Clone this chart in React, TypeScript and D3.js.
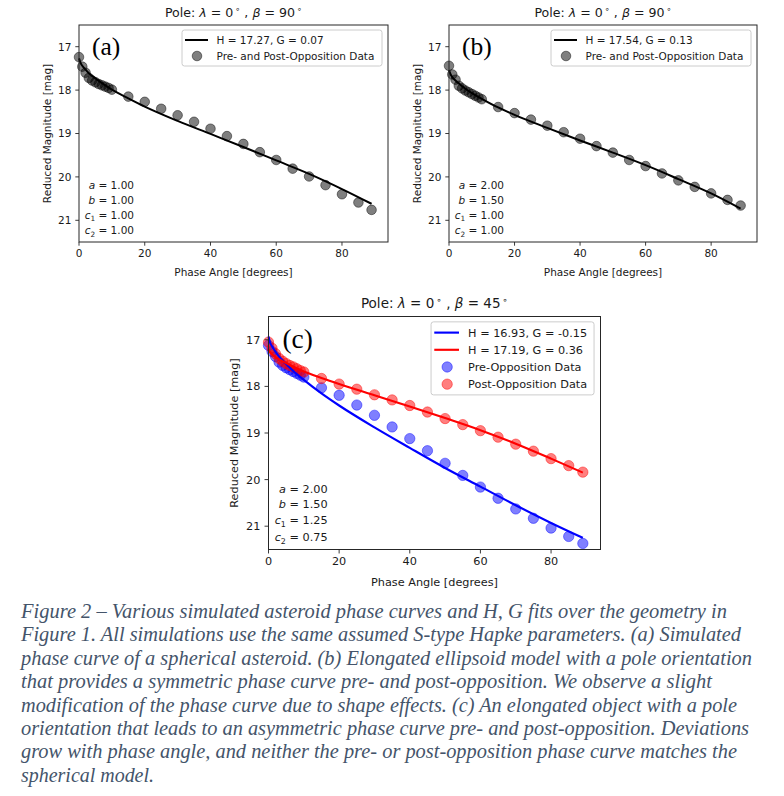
import React from "react";
import * as d3 from "d3";

// ---------- data ----------
const xTicks = [0, 20, 40, 60, 80];
const yTicks = [17, 18, 19, 20, 21];
const xDomain = [0, 94];
const yDomain = [16.5, 21.5];

const phaseAngles = [0, 1, 2, 3, 4, 5, 6, 7, 8, 9, 10, 15, 20, 25, 30, 35, 40, 45, 50, 55, 60, 65, 70, 75, 80, 85, 89];
const fitAngles = [0, 0.5, 1, 2, 3, 5, 7, 10, 15, 20, 30, 40, 50, 60, 70, 80, 89];

// (a) spherical
const dataA = [17.24, 17.46, 17.6, 17.72, 17.78, 17.82, 17.86, 17.89, 17.92, 17.95, 17.99, 18.15, 18.27, 18.43, 18.58, 18.73, 18.89, 19.06, 19.24, 19.43, 19.61, 19.81, 19.99, 20.19, 20.4, 20.59, 20.76];
const fitA = [17.27, 17.38, 17.44, 17.53, 17.61, 17.73, 17.84, 17.99, 18.19, 18.38, 18.71, 19.01, 19.31, 19.62, 19.93, 20.28, 20.62];

// (b) elongated, symmetric
const dataB = [17.44, 17.64, 17.76, 17.9, 17.96, 18.01, 18.05, 18.09, 18.13, 18.17, 18.21, 18.39, 18.53, 18.68, 18.82, 18.97, 19.12, 19.29, 19.44, 19.61, 19.75, 19.92, 20.08, 20.23, 20.38, 20.53, 20.66];
const fitB = [17.54, 17.64, 17.7, 17.78, 17.85, 17.97, 18.07, 18.2, 18.4, 18.57, 18.87, 19.16, 19.44, 19.73, 20.05, 20.38, 20.73];

// (c) elongated, asymmetric
const dataCPre = [17.12, 17.25, 17.36, 17.48, 17.55, 17.6, 17.64, 17.68, 17.72, 17.76, 17.8, 18.03, 18.19, 18.4, 18.62, 18.87, 19.12, 19.38, 19.65, 19.91, 20.16, 20.4, 20.63, 20.83, 21.04, 21.22, 21.37];
const dataCPost = [17.05, 17.18, 17.3, 17.4, 17.46, 17.51, 17.55, 17.58, 17.62, 17.66, 17.69, 17.83, 17.95, 18.06, 18.18, 18.29, 18.41, 18.55, 18.69, 18.82, 18.95, 19.09, 19.24, 19.39, 19.55, 19.7, 19.84];
const fitCPre = [16.93, 17.07, 17.14, 17.26, 17.36, 17.52, 17.67, 17.86, 18.15, 18.41, 18.88, 19.32, 19.75, 20.15, 20.55, 20.93, 21.25];
const fitCPost = [17.19, 17.27, 17.31, 17.37, 17.42, 17.5, 17.58, 17.68, 17.82, 17.95, 18.19, 18.43, 18.68, 18.94, 19.23, 19.55, 19.85];

const paramsA = ["1.00", "1.00", "1.00", "1.00"];
const paramsB = ["2.00", "1.50", "1.00", "1.00"];
const paramsC = ["2.00", "1.50", "1.25", "0.75"];
const paramNames = [
  { v: "a", sub: "" },
  { v: "b", sub: "" },
  { v: "c", sub: "1" },
  { v: "c", sub: "2" },
];

const captionLines = [
  "Figure 2 \u2013 Various simulated asteroid phase curves and H, G fits over the geometry in",
  "Figure 1. All simulations use the same assumed S-type Hapke parameters. (a) Simulated",
  "phase curve of a spherical asteroid. (b) Elongated ellipsoid model with a pole orientation",
  "that provides a symmetric phase curve pre- and post-opposition. We observe a slight",
  "modification of the phase curve due to shape effects. (c) An elongated object with a pole",
  "orientation that leads to an asymmetric phase curve pre- and post-opposition. Deviations",
  "grow with phase angle, and neither the pre- or post-opposition phase curve matches the",
  "spherical model.",
];
const captionWidths = [706, 720, 731, 691, 716, 728, 716, 133];

// ---------- layout ----------
const FONT = "DejaVu Sans, sans-serif";

type Fit = { values: number[]; color: string; label: string };
type Sc = { values: number[]; color: string; label: string };
type PanelCfg = {
  left: number; top: number; width: number; height: number; s: number;
  lam: string; beta: string; letter: string;
  fits: Fit[]; scatters: Sc[]; params: string[]; legendWidth: number;
};

const panels: PanelCfg[] = [
  {
    left: 79, top: 25, width: 309, height: 217, s: 1, lam: "0", beta: "90", letter: "(a)",
    fits: [{ values: fitA, color: "#000000", label: "H = 17.27, G = 0.07" }],
    scatters: [{ values: dataA, color: "rgba(0,0,0,0.5)", label: "Pre- and Post-Opposition Data" }],
    params: paramsA, legendWidth: 200,
  },
  {
    left: 449, top: 25, width: 308, height: 217, s: 1, lam: "0", beta: "90", letter: "(b)",
    fits: [{ values: fitB, color: "#000000", label: "H = 17.54, G = 0.13" }],
    scatters: [{ values: dataB, color: "rgba(0,0,0,0.5)", label: "Pre- and Post-Opposition Data" }],
    params: paramsB, legendWidth: 200,
  },
  {
    left: 268.5, top: 316.5, width: 332, height: 233, s: 1.074, lam: "0", beta: "45", letter: "(c)",
    fits: [
      { values: fitCPre, color: "#0000ff", label: "H = 16.93, G = -0.15" },
      { values: fitCPost, color: "#ff0000", label: "H = 17.19, G = 0.36" },
    ],
    scatters: [
      { values: dataCPre, color: "rgba(0,0,255,0.5)", label: "Pre-Opposition Data" },
      { values: dataCPost, color: "rgba(255,0,0,0.5)", label: "Post-Opposition Data" },
    ],
    params: paramsC, legendWidth: 163,
  },
];

const paramOffsets = [-53, -38.5, -23.5, -8];

function Panel({ cfg }: { cfg: PanelCfg }) {
  const { left, top, width, height, s } = cfg;
  const bottom = top + height;
  const right = left + width;
  const x = d3.scaleLinear().domain(xDomain).range([left, right]);
  const y = d3.scaleLinear().domain(yDomain).range([top, bottom]);
  const fs = 10.5 * s;
  const tickLen = 3.7 * s;
  const line = d3
    .line<number>()
    .x((_, i) => x(fitAngles[i]))
    .y((d) => y(d))
    .curve(d3.curveMonotoneX);
  const r = 4.8 * s;

  const entries = [
    ...cfg.fits.map((f) => ({ kind: "line", color: f.color, label: f.label })),
    ...cfg.scatters.map((c) => ({ kind: "dot", color: c.color, label: c.label })),
  ];
  const lgSp = 16 * s;
  const lgPad = 10 * s;
  const lgW = cfg.legendWidth;
  const lgH = lgPad * 2 + (entries.length - 1) * lgSp;
  const lgX = right - 6 * s - lgW;
  const lgY = top + 5 * s;

  const supDy = 5 * s;
  return (
    <g fontFamily={FONT} fill="#1a1a1a">
      {/* title */}
      <text x={(left + right) / 2} y={top - 7.6 * s} textAnchor="middle" fontSize={12.6 * s}>
        <tspan>Pole: </tspan>
        <tspan fontStyle="italic">λ</tspan>
        <tspan>{` = ${cfg.lam}`}</tspan>
        <tspan fontSize={8.5 * s} dy={-supDy}>{"\u2009∘"}</tspan>
        <tspan dy={supDy}>{" , "}</tspan>
        <tspan fontStyle="italic">β</tspan>
        <tspan>{` = ${cfg.beta}`}</tspan>
        <tspan fontSize={8.5 * s} dy={-supDy}>{"\u2009∘"}</tspan>
      </text>

      {/* scatter */}
      {cfg.scatters.map((c, j) => (
        <g key={"s" + j}>
          {c.values.map((v, i) => (
            <circle key={i} cx={x(phaseAngles[i])} cy={y(v)} r={r} fill={c.color} stroke={c.color} strokeWidth={0.9} />
          ))}
        </g>
      ))}
      {/* fit lines on top (matplotlib zorder) */}
      {cfg.fits.map((f, i) => (
        <path key={"ft" + i} d={line(f.values) || ""} fill="none" stroke={f.color} strokeWidth={2 * s} />
      ))}

      {/* frame */}
      <rect x={left} y={top} width={width} height={height} fill="none" stroke="#262626" strokeWidth={1} />

      {/* x ticks */}
      {xTicks.map((t) => (
        <g key={"x" + t}>
          <line x1={x(t)} x2={x(t)} y1={bottom} y2={bottom + tickLen} stroke="#262626" strokeWidth={0.9} />
          <text x={x(t)} y={bottom + 14.8 * s} textAnchor="middle" fontSize={fs}>{t}</text>
        </g>
      ))}
      {/* y ticks */}
      {yTicks.map((t) => (
        <g key={"y" + t}>
          <line x1={left - tickLen} x2={left} y1={y(t)} y2={y(t)} stroke="#262626" strokeWidth={0.9} />
          <text x={left - 7.6 * s} y={y(t) + 3.8 * s} textAnchor="end" fontSize={fs}>{t}</text>
        </g>
      ))}
      <text x={(left + right) / 2} y={bottom + 34 * s} textAnchor="middle" fontSize={fs}>
        Phase Angle [degrees]
      </text>
      <text
        transform={`translate(${left - 28.5 * s},${(top + bottom) / 2}) rotate(-90)`}
        textAnchor="middle"
        fontSize={fs}
      >
        Reduced Magnitude [mag]
      </text>

      {/* panel letter */}
      <text x={left + 13 * s} y={top + 29.5 * s} fontFamily="Liberation Serif, serif" fontSize={25.5 * s} fill="#000">
        {cfg.letter}
      </text>

      {/* parameters */}
      {paramNames.map((p, i) => (
        <text key={"p" + i} x={left + 55 * s} y={bottom + paramOffsets[i] * s} textAnchor="end" fontSize={fs}>
          <tspan fontStyle="italic">{p.v}</tspan>
          {p.sub ? (
            <tspan fontSize={fs * 0.7} dy={2.6 * s}>{p.sub}</tspan>
          ) : null}
          <tspan dy={p.sub ? -2.6 * s : 0}>{` = ${cfg.params[i]}`}</tspan>
        </text>
      ))}

      {/* legend */}
      <rect x={lgX} y={lgY} width={lgW} height={lgH} rx={2.5} fill="#ffffff" fillOpacity={0.8} stroke="#cccccc" strokeWidth={1} />
      {entries.map((e, i) => {
        const ey = lgY + lgPad + i * lgSp;
        return (
          <g key={"l" + i}>
            {e.kind === "line" ? (
              <line x1={lgX + 3 * s} x2={lgX + 26 * s} y1={ey} y2={ey} stroke={e.color} strokeWidth={2 * s} />
            ) : (
              <circle cx={lgX + 15 * s} cy={ey} r={r} fill={e.color} stroke={e.color} strokeWidth={0.9} />
            )}
            <text x={lgX + 34.5 * s} y={ey + 3.8 * s} fontSize={fs}>{e.label}</text>
          </g>
        );
      })}
    </g>
  );
}

export default function App() {
  return (
    <svg
      width={784}
      height={796}
      viewBox="0 0 784 796"
      style={{ position: "absolute", left: 0, top: 0, background: "#ffffff" }}
    >
      <rect x={0} y={0} width={784} height={796} fill="#ffffff" />
      {panels.map((p, i) => (
        <Panel key={i} cfg={p} />
      ))}
      <g fontFamily="Liberation Serif, serif" fontStyle="italic" fontSize={21} fill="#44546A">
        {captionLines.map((l, i) => (
          <text
            key={i}
            x={21}
            y={618 + i * 23.4}
            textLength={captionWidths[i]}
            lengthAdjust="spacingAndGlyphs"
          >
            {l}
          </text>
        ))}
      </g>
    </svg>
  );
}
